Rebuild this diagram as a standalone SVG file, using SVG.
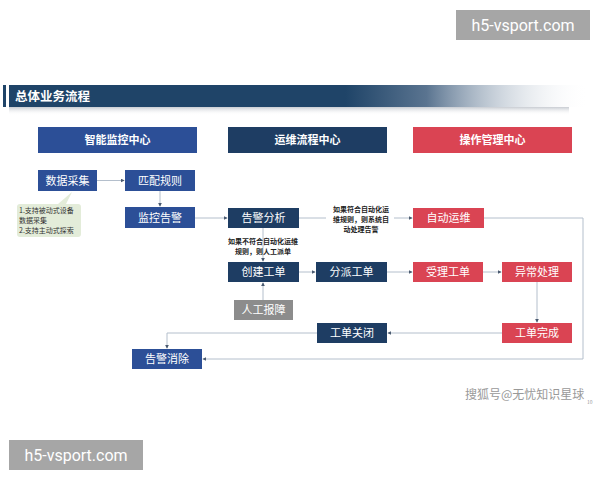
<svg xmlns="http://www.w3.org/2000/svg" width="600" height="480" viewBox="0 0 600 480">
<defs>
<linearGradient id="bar" x1="0" y1="0" x2="1" y2="0">
<stop offset="0" stop-color="#1f4468"/>
<stop offset="0.58" stop-color="#1f4468"/>
<stop offset="0.72" stop-color="#5a7490"/>
<stop offset="1" stop-color="#ffffff" stop-opacity="0"/>
</linearGradient>
<linearGradient id="shadow" x1="0" y1="0" x2="0" y2="1">
<stop offset="0" stop-color="#c8ccd2"/>
<stop offset="1" stop-color="#ffffff" stop-opacity="0"/>
</linearGradient>
<marker id="ah" viewBox="0 0 6 6" refX="5" refY="3" markerWidth="4" markerHeight="4" orient="auto">
<path d="M0,0 L6,3 L0,6 z" fill="#4a5a70"/>
</marker>
<style>
text{font-family:"Noto Sans CJK SC","Liberation Sans",sans-serif;}
.hd{font-size:11px;font-weight:bold;fill:#fff;text-anchor:middle;}
.nt{font-size:11px;fill:#fff;text-anchor:middle;}
.blue{fill:#2c4f97;}
.navy{fill:#1e3d63;}
.red{fill:#da4453;}
.gray{fill:#8c8c8c;}
.ln{fill:none;stroke:#b4bfcc;stroke-width:1;}
.ar{marker-end:url(#ah);}
.lb{font-size:7px;font-weight:bold;fill:#222;text-anchor:middle;}
.co{font-size:7px;fill:#333;}
.wm{font-size:16px;fill:#fff;font-family:Roboto,"Liberation Sans",sans-serif;}
</style>
</defs>
<rect width="600" height="480" fill="#fff"/>
<!-- title bar -->
<rect x="9" y="107" width="560" height="8" fill="url(#shadow)"/>
<rect x="3" y="85" width="3" height="22" fill="#1f4468"/>
<rect x="9" y="85" width="580" height="22" fill="url(#bar)"/>
<text x="15" y="101" style="font-size:12.5px;font-weight:bold;fill:#fff">总体业务流程</text>

<!-- headers -->
<g id="h1"><rect class="blue" x="38" y="127" width="159" height="26"/><text class="hd" x="117.5" y="144">智能监控中心</text></g>
<g id="h2"><rect class="navy" x="228" y="127" width="159" height="26"/><text class="hd" x="307.5" y="144">运维流程中心</text></g>
<g id="h3"><rect class="red" x="413" y="127" width="159" height="26"/><text class="hd" x="492.5" y="144">操作管理中心</text></g>

<!-- connectors -->
<g id="connectors">
<line class="ln ar" x1="97" y1="180.5" x2="124" y2="180.5"/>
<line class="ln ar" x1="160" y1="191" x2="160" y2="206"/>
<line class="ln ar" x1="195" y1="218" x2="227" y2="218"/>
<line class="ln" x1="299" y1="218" x2="326" y2="218"/>
<line class="ln ar" x1="394" y1="218" x2="412" y2="218"/>
<line class="ln ar" x1="263" y1="228" x2="263" y2="261"/>
<line class="ln ar" x1="263" y1="300" x2="263" y2="283"/>
<line class="ln ar" x1="299" y1="272" x2="315" y2="272"/>
<line class="ln ar" x1="387" y1="272" x2="412" y2="272"/>
<line class="ln ar" x1="483" y1="272" x2="501" y2="272"/>
<line class="ln ar" x1="537" y1="282" x2="537" y2="322"/>
<line class="ln ar" x1="502" y1="333" x2="388" y2="333"/>
<polyline class="ln ar" points="317,333 167,333 167,348"/>
<polyline class="ln ar" points="484,218 583,218 583,359 203,359"/>
<text class="lb" x="361" y="212">如果符合自动化运</text>
<text class="lb" x="361" y="222">维规则，则系统自</text>
<text class="lb" x="361" y="232">动处理告警</text>
<text class="lb" x="263" y="244">如果不符合自动化运维</text>
<text class="lb" x="263" y="254">规则，则人工派单</text>
</g>

<!-- callout -->
<g id="callout">
<path d="M20,204 L58,204 L72,192 L66,204 L78,204 Q81,204 81,207 L81,234 Q81,237 78,237 L20,237 Q17,237 17,234 L17,207 Q17,204 20,204 z" fill="#e3ecd9"/>
<text class="co" x="19" y="213">1.支持被动式设备</text>
<text class="co" x="19" y="223">数据采集</text>
<text class="co" x="19" y="233">2.支持主动式探索</text>
</g>

<!-- nodes -->
<g id="n1"><rect class="blue" x="38" y="170" width="59" height="21"/><text class="nt" x="67.5" y="184.5">数据采集</text></g>
<g id="n2"><rect class="blue" x="125" y="170" width="70" height="21"/><text class="nt" x="160" y="184.5">匹配规则</text></g>
<g id="n3"><rect class="blue" x="125" y="207" width="70" height="21"/><text class="nt" x="160" y="221.5">监控告警</text></g>
<g id="n4"><rect class="navy" x="228" y="208" width="71" height="20"/><text class="nt" x="263.5" y="222">告警分析</text></g>
<g id="n5"><rect class="red" x="413" y="208" width="71" height="20"/><text class="nt" x="448.5" y="222">自动运维</text></g>
<g id="n6"><rect class="navy" x="228" y="262" width="71" height="20"/><text class="nt" x="263.5" y="276">创建工单</text></g>
<g id="n7"><rect class="navy" x="316" y="262" width="71" height="20"/><text class="nt" x="351.5" y="276">分派工单</text></g>
<g id="n8"><rect class="red" x="413" y="262" width="70" height="20"/><text class="nt" x="448" y="276">受理工单</text></g>
<g id="n9"><rect class="red" x="502" y="262" width="70" height="20"/><text class="nt" x="537" y="276">异常处理</text></g>
<g id="n10"><rect class="gray" x="234" y="300" width="59" height="20"/><text class="nt" x="263.5" y="314">人工报障</text></g>
<g id="n11"><rect class="navy" x="317" y="323" width="70" height="20"/><text class="nt" x="352" y="337">工单关闭</text></g>
<g id="n12"><rect class="red" x="502" y="323" width="70" height="20"/><text class="nt" x="537" y="337">工单完成</text></g>
<g id="n13"><rect class="blue" x="132" y="349" width="70" height="20"/><text class="nt" x="167" y="363">告警消除</text></g>

<!-- watermarks -->
<text x="465" y="399" style="font-size:12px;fill:#999">搜狐号@无忧知识星球</text>
<text x="587" y="404" style="font-size:5px;fill:#999">10</text>
<rect x="456" y="10" width="134" height="30" fill="#a6a6a6"/>
<text class="wm" x="523" y="31" text-anchor="middle">h5-vsport.com</text>
<rect x="9" y="440" width="134" height="30" fill="#a6a6a6"/>
<text class="wm" x="76" y="461" text-anchor="middle">h5-vsport.com</text>
</svg>
